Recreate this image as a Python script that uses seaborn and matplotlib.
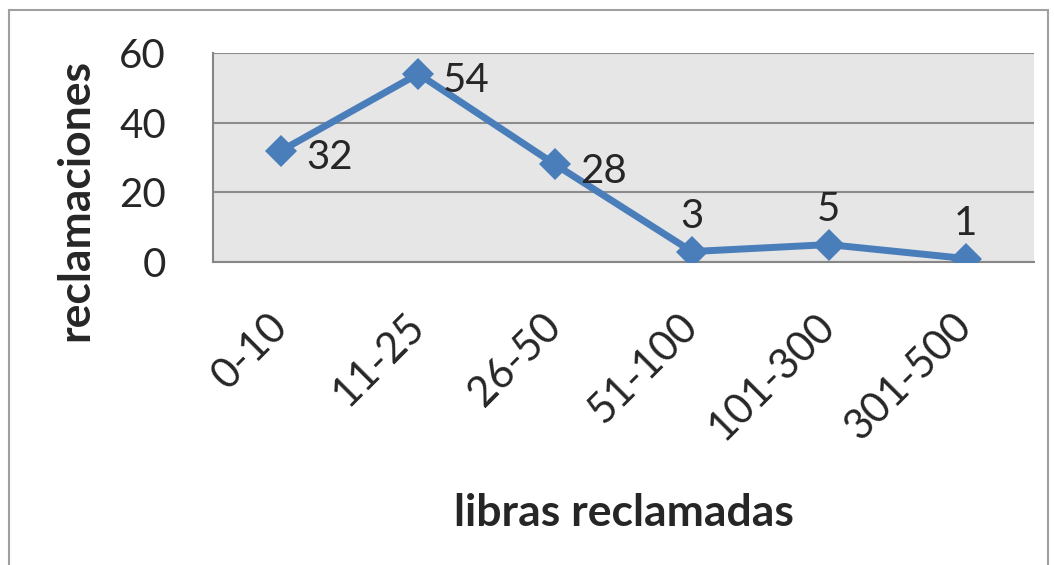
import pandas as pd
import seaborn as sns
import matplotlib.pyplot as plt
from matplotlib.patches import Rectangle

# Data
categories = ['0-10', '11-25', '26-50', '51-100', '101-300', '301-500']
reclamaciones = [32, 54, 28, 3, 5, 1]

df = pd.DataFrame({'libras': categories, 'reclamaciones': reclamaciones})
df['pos'] = range(len(categories))

sns.set_style('white')
plt.rcParams['font.family'] = ['Lato', 'DejaVu Sans']

fig = plt.figure(figsize=(10.54, 5.65), dpi=100)
ax = fig.add_axes([213 / 1054, 1 - 262 / 565, (1034 - 213) / 1054, (262 - 53) / 565])
ax.set_facecolor('#e6e6e6')

sns.lineplot(data=df, x='pos', y='reclamaciones', ax=ax, color='#4a7ebb',
             linewidth=5, marker='D', markersize=16, markeredgewidth=0, zorder=3)

# data labels (Excel style)
for i, v in enumerate(reclamaciones):
    if v > 10:
        ax.annotate(str(v), (i, v), xytext=(18, -5), textcoords='offset points',
                    ha='left', va='center', fontsize=29)
    else:
        ax.annotate(str(v), (i, v), xytext=(0, 12), textcoords='offset points',
                    ha='center', va='bottom', fontsize=29)

ax.set_xlim(-0.5, len(categories) - 0.5)
ax.set_ylim(0, 60)
ax.set_yticks([0, 20, 40, 60])
ax.grid(axis='y', color='#8c8c8c', linewidth=1.5)
ax.set_axisbelow(True)

ax.set_xticks(range(len(categories)))
ax.set_xticklabels(categories, rotation=45, ha='right', va='center', rotation_mode='anchor')
ax.set_xticks([i - 0.5 for i in range(len(categories) + 1)], minor=True)
ax.tick_params(axis='x', which='major', length=0, pad=42, labelsize=30)
ax.tick_params(axis='x', which='minor', length=10, width=1.5, color='#868686', direction='out')
ax.tick_params(axis='y', length=10, width=1.5, color='#868686', direction='out', labelsize=29, pad=24)

for s in ['top', 'right']:
    ax.spines[s].set_visible(False)
for s in ['left', 'bottom']:
    ax.spines[s].set_color('#868686')
    ax.spines[s].set_linewidth(1.5)

ax.set_xlabel('libras reclamadas', fontsize=32, fontweight='bold', va='center')
ax.set_ylabel('reclamaciones', fontsize=32, fontweight='bold', va='center')
ax.xaxis.set_label_coords(0.5, (262 - 513) / 209)
ax.yaxis.set_label_coords((75 - 213) / 821, (262 - 200) / 209)

# outer chart border
fig.patches.append(Rectangle((9 / 1054, -0.1), (1048 - 9) / 1054, 1.1 - 10 / 565,
                             transform=fig.transFigure, fill=False,
                             edgecolor='#a0a0a0', linewidth=1.5))

fig.savefig('out.png', dpi=100)
